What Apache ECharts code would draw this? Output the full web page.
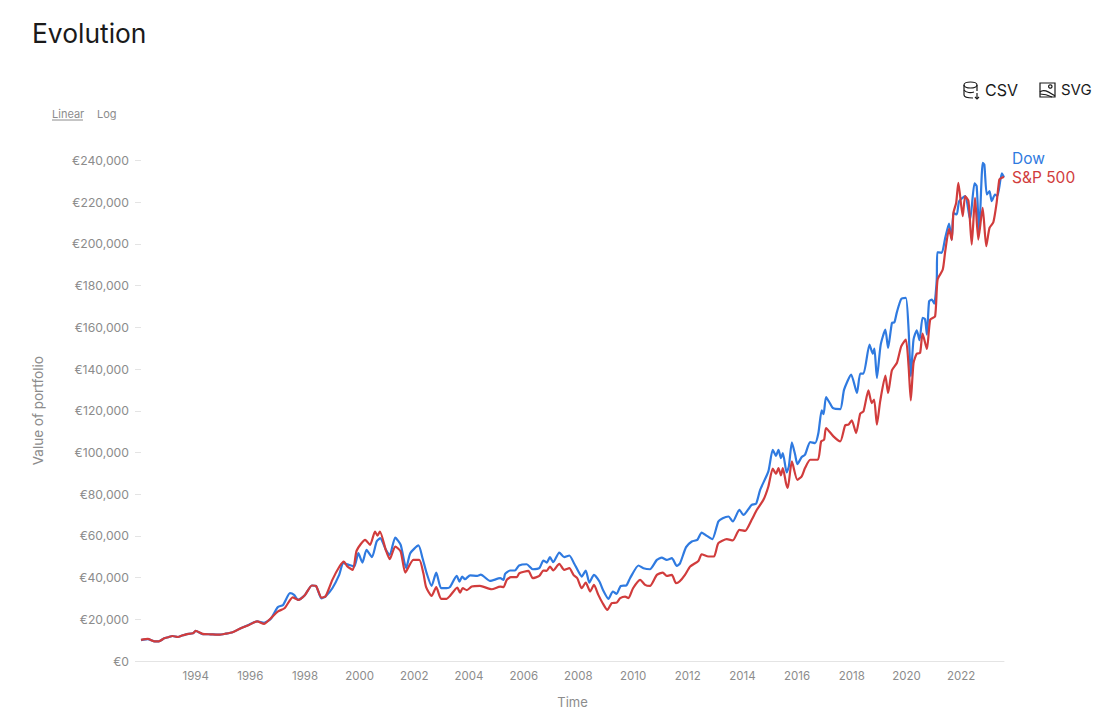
<!DOCTYPE html>
<html><head><meta charset="utf-8">
<style>html,body{margin:0;padding:0;background:#fff}#c{width:1109px;height:727px}</style>
<script src="https://cdn.jsdelivr.net/npm/echarts@6/dist/echarts.min.js"></script>
</head><body><div id="c"></div>
<script>
const xTickStep = 2;
const dowYears = [1992,1992.25,1992.5,1992.65,1992.85,1993,1993.15,1993.35,1993.5,1993.65,1993.9,1994,1994.25,1994.55,1994.85,1995.1,1995.35,1995.65,1995.95,1996.25,1996.5,1996.75,1997,1997.2,1997.45,1997.6,1997.75,1998,1998.25,1998.4,1998.6,1998.75,1999,1999.25,1999.4,1999.6,1999.8,1999.95,2000.1,2000.25,2000.45,2000.62,2000.75,2000.96,2001.1,2001.3,2001.5,2001.7,2001.85,2002.15,2002.3,2002.45,2002.63,2002.8,2002.98,2003.18,2003.3,2003.55,2003.65,2003.75,2003.85,2004.04,2004.3,2004.43,2004.77,2005.14,2005.26,2005.32,2005.5,2005.68,2005.83,2006.11,2006.33,2006.57,2006.72,2006.84,2006.96,2007.08,2007.3,2007.48,2007.67,2007.84,2008,2008.12,2008.27,2008.4,2008.57,2008.77,2008.91,2009.1,2009.26,2009.4,2009.55,2009.75,2009.89,2010.2,2010.38,2010.62,2010.87,2011.05,2011.23,2011.42,2011.6,2011.72,2011.94,2012.15,2012.35,2012.51,2012.7,2012.9,2013.12,2013.28,2013.49,2013.65,2013.89,2014.04,2014.22,2014.34,2014.5,2014.65,2014.95,2015.11,2015.23,2015.32,2015.41,2015.48,2015.62,2015.7,2015.81,2015.93,2016.01,2016.17,2016.29,2016.48,2016.66,2016.78,2016.9,2016.97,2017.06,2017.21,2017.31,2017.58,2017.72,2017.98,2018.19,2018.31,2018.43,2018.65,2018.77,2018.83,2018.92,2019.06,2019.23,2019.33,2019.47,2019.56,2019.65,2019.81,2019.98,2020.08,2020.16,2020.26,2020.38,2020.48,2020.59,2020.68,2020.75,2020.83,2020.93,2021.02,2021.11,2021.13,2021.29,2021.42,2021.56,2021.66,2021.72,2021.84,2021.93,2022.15,2022.33,2022.49,2022.57,2022.66,2022.79,2022.85,2022.94,2023.04,2023.12,2023.24,2023.33,2023.49,2023.57];
const dowValues = [10000,10500,9400,9400,10900,11400,12000,11500,12200,12800,13300,14400,12900,12800,12600,13100,13800,15700,17400,19000,18300,20300,25800,26900,32500,31700,29300,31700,36200,36000,30000,31000,34900,41300,46900,46100,45300,51700,47200,53300,49800,57300,58900,53300,50900,59200,55700,44500,51700,55400,49300,42100,36000,42400,34900,34900,35400,40800,38100,40500,39200,41100,40800,41400,38400,39700,38900,41800,43400,43400,45800,46400,44000,44500,48200,47200,49800,47400,52000,49800,50600,46900,42900,40500,43400,37600,41300,38100,33800,29800,33300,32200,36000,36200,39700,45800,44500,44000,48500,49600,48500,49300,45600,46900,54600,57300,58100,61600,60000,58400,66900,68500,69300,66900,72500,70000,72800,74900,75400,82100,90900,101300,98400,101300,97300,99700,90400,93300,104800,98900,94400,97800,98900,105000,104500,109300,120200,118400,126600,123400,121300,120800,130100,137300,128500,137800,137800,151700,147400,149800,135700,151700,158900,150100,162100,162400,167200,173600,174100,158900,136500,154100,158600,153800,164500,164000,156500,172500,173300,171400,182900,196000,195700,202900,209800,202100,214900,214100,220500,222900,211700,229000,227700,205300,238900,238100,223700,225300,220500,223700,222900,233800,232000];
const spYears = [1992,1992.25,1992.5,1992.65,1992.85,1993,1993.15,1993.35,1993.5,1993.65,1993.9,1994,1994.25,1994.55,1994.85,1995.1,1995.35,1995.65,1995.95,1996.25,1996.5,1996.75,1997,1997.25,1997.55,1997.75,1998,1998.25,1998.4,1998.6,1998.75,1999,1999.26,1999.42,1999.55,1999.75,1999.89,2000.2,2000.38,2000.56,2000.65,2000.74,2000.96,2001.1,2001.3,2001.5,2001.67,2001.96,2002.18,2002.33,2002.43,2002.63,2002.8,2002.98,2003.18,2003.3,2003.57,2003.67,2003.77,2003.92,2004.1,2004.4,2004.83,2005.14,2005.26,2005.38,2005.53,2005.75,2005.84,2006.17,2006.33,2006.57,2006.72,2006.84,2006.96,2007.08,2007.3,2007.48,2007.67,2007.82,2007.96,2008.12,2008.27,2008.43,2008.57,2008.73,2008.89,2009.06,2009.22,2009.4,2009.53,2009.71,2009.83,2010,2010.26,2010.44,2010.62,2010.87,2011.09,2011.23,2011.42,2011.57,2011.7,2011.9,2012.09,2012.39,2012.51,2012.76,2012.96,2013.12,2013.43,2013.65,2013.89,2014.1,2014.34,2014.53,2014.77,2014.95,2015.11,2015.23,2015.32,2015.41,2015.48,2015.6,2015.66,2015.81,2016.01,2016.17,2016.29,2016.48,2016.76,2016.88,2016.99,2017.06,2017.33,2017.58,2017.76,2017.88,2018,2018.16,2018.31,2018.43,2018.61,2018.73,2018.82,2018.92,2019.04,2019.23,2019.33,2019.47,2019.65,2019.81,2019.98,2020.08,2020.16,2020.26,2020.38,2020.5,2020.59,2020.75,2020.87,2021.05,2021.14,2021.33,2021.42,2021.56,2021.66,2021.72,2021.82,2021.9,2022.06,2022.15,2022.27,2022.39,2022.51,2022.63,2022.79,2022.92,2023.04,2023.18,2023.3,2023.4,2023.49,2023.57];
const spValues = [10100,10600,9400,9400,10900,11400,12000,11500,12200,12800,13300,14400,13000,12800,12600,13100,13800,15700,17300,19000,17800,20500,23700,25300,30500,29300,31700,36200,36000,30400,31000,38900,45300,47700,45300,43700,53000,58100,55700,62100,60100,62100,53000,48800,54900,52500,42400,48500,48500,42100,35400,31200,35400,29800,29800,31200,35200,32800,34900,34000,35700,36000,34400,35700,35400,38900,40200,40200,42100,43200,39700,40800,43400,43200,45300,43400,46600,43700,44500,41300,39700,34900,37600,33300,36500,31700,27700,24500,27700,28000,30100,30900,30100,34900,38900,36500,36000,41300,42400,40800,41300,37300,38100,41300,45300,48000,51200,50100,50100,56500,58400,57800,62900,62400,67700,72500,77300,83700,92200,89800,92500,89000,92500,85000,83000,95700,86900,88500,92500,96500,96500,105300,106100,111700,107700,105300,113000,113300,115400,109300,118600,119700,129800,123700,125300,113300,124500,136800,128500,139400,142900,150900,154100,141300,125000,142900,147400,147700,157000,149600,163700,165300,182900,187700,196500,207200,201800,214900,219700,229300,213300,222900,220500,199700,222100,202100,217300,198900,207700,210400,219700,230900,231700,232200];
const yTicksMax = 240000, yStep = 20000;
const zip = (a, b) => a.map((v, i) => [v, b[i]]);
const FONT = 'Inter, "Noto Sans", sans-serif';
const GREY = '#8c8c8c', BLUE = '#2f7ae0', RED = '#d13c3c', INK = '#1a1a1a';
const ICON = {fill: 'none', stroke: INK, lineWidth: 1.2};
const seg = (x1, y1, x2, y2) => ({type: 'line', shape: {x1, y1, x2, y2}, style: ICON});
const chart = echarts.init(document.getElementById('c'), null, {renderer: 'svg'});
chart.setOption({
  animation: false,
  backgroundColor: '#fff',
  textStyle: {fontFamily: FONT},
  grid: {left: 141, right: 105, top: 160.5, bottom: 66, containLabel: false},
  xAxis: {
    type: 'value', min: 1992, max: 2023.57, interval: xTickStep,
    name: 'Time', nameLocation: 'middle', nameGap: 34,
    nameTextStyle: {color: GREY, fontSize: 13, fontFamily: FONT},
    axisLine: {show: true, lineStyle: {color: '#e4e4e4', width: 1}},
    axisTick: {show: false}, splitLine: {show: false},
    axisLabel: {color: GREY, fontSize: 11.5, fontFamily: FONT, margin: 9, showMinLabel: false, showMaxLabel: false,
      formatter: v => String(v)}
  },
  yAxis: {
    type: 'value', min: 0, max: yTicksMax, interval: yStep,
    name: 'Value of portfolio', nameLocation: 'middle', nameGap: 96, nameRotate: 90,
    nameTextStyle: {color: GREY, fontSize: 13.5, fontFamily: FONT},
    axisLine: {show: false},
    axisTick: {show: true, length: 6, lineStyle: {color: '#e4e4e4'}},
    splitLine: {show: false},
    axisLabel: {color: GREY, fontSize: 12.2, fontFamily: FONT, margin: 12,
      formatter: v => '€' + v.toLocaleString('en-US')}
  },
  series: [
    {name: 'Dow', type: 'line', data: zip(dowYears, dowValues), showSymbol: false, smooth: 0.2,
     lineStyle: {color: BLUE, width: 2.2}, itemStyle: {color: BLUE}, clip: false,
     endLabel: {show: true, formatter: '{a}', color: BLUE, fontSize: 15.5, fontFamily: FONT, offset: [0, -19]}},
    {name: 'S&P 500', type: 'line', data: zip(spYears, spValues), showSymbol: false, smooth: 0.2,
     lineStyle: {color: RED, width: 2.2}, itemStyle: {color: RED}, clip: false,
     endLabel: {show: true, formatter: '{a}', color: RED, fontSize: 15.5, fontFamily: FONT, offset: [0, 1]}}
  ],
  graphic: [
    {type: 'text', left: 32, top: 20, style: {text: 'Evolution', font: '400 26.4px ' + FONT, fill: INK}},
    {type: 'text', left: 52, top: 108, style: {text: 'Linear', font: '11px ' + FONT, fill: GREY}},
    {type: 'line', shape: {x1: 52, y1: 120, x2: 83, y2: 120}, style: {stroke: GREY, lineWidth: 1}},
    {type: 'text', left: 97, top: 108, style: {text: 'Log', font: '11px ' + FONT, fill: GREY}},
    {type: 'text', left: 985, top: 82, style: {text: 'CSV', font: '16px ' + FONT, fill: INK}},
    {type: 'text', left: 1061, top: 82, style: {text: 'SVG', font: '15px ' + FONT, fill: INK}},
    {type: 'ellipse', shape: {cx: 970.5, cy: 85, rx: 6.5, ry: 3}, style: ICON},
    seg(964, 85, 964, 95), seg(977, 85, 977, 91),
    {type: 'bezierCurve', shape: {x1: 964, y1: 90, x2: 974, y2: 92, cpx1: 966, cpy1: 93, cpx2: 971, cpy2: 93}, style: ICON},
    {type: 'bezierCurve', shape: {x1: 964, y1: 95, x2: 973, y2: 98, cpx1: 964, cpy1: 97, cpx2: 968, cpy2: 98}, style: ICON},
    seg(977, 93, 977, 99),
    {type: 'polyline', shape: {points: [[975, 97], [977, 99], [979, 97]]}, style: ICON},
    {type: 'rect', shape: {x: 1040, y: 83, width: 15, height: 14}, style: ICON},
    {type: 'circle', shape: {cx: 1050.3, cy: 86.5, r: 1.7}, style: ICON},
    {type: 'bezierCurve', shape: {x1: 1040, y1: 92, x2: 1055, y2: 96, cpx1: 1044, cpy1: 88, cpx2: 1050, cpy2: 93}, style: ICON},
    {type: 'bezierCurve', shape: {x1: 1040, y1: 94, x2: 1052, y2: 97, cpx1: 1045, cpy1: 94, cpx2: 1050, cpy2: 96}, style: ICON}
  ]
});
</script></body></html>
